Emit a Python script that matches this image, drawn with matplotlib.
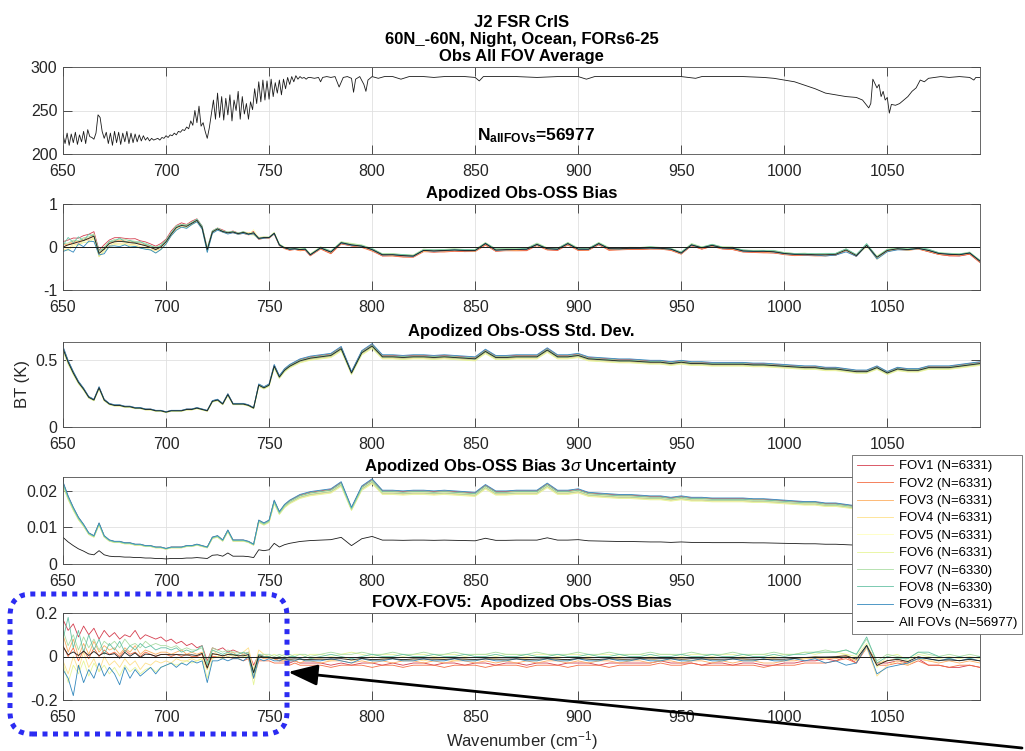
import numpy as np
import matplotlib
matplotlib.use('Agg')
import matplotlib.pyplot as plt
from matplotlib.patches import FancyArrowPatch, FancyBboxPatch
from matplotlib.ticker import FuncFormatter

plt.rcParams['font.family'] = ['Liberation Sans', 'DejaVu Sans']
plt.rcParams['mathtext.fontset'] = 'custom'
plt.rcParams['mathtext.rm'] = 'Liberation Sans'
plt.rcParams['mathtext.it'] = 'Liberation Sans:italic'
plt.rcParams['mathtext.bf'] = 'Liberation Sans:bold'

# ---------------- data ----------------
# top panel: all-FOV mean observed BT (K)
wn_obs_dense = np.arange(650, 771)
bt_obs_dense = [
    222, 212, 224, 210, 223, 213, 225, 211, 222, 214,
    226, 212, 228, 220, 219, 217, 224, 245, 242, 226,
    218, 225, 212, 224, 210, 226, 213, 225, 211, 224,
    214, 226, 212, 224, 213, 223, 214, 222, 215, 221,
    216, 219, 215, 218, 216, 217, 218, 216, 219, 218,
    221, 219, 222, 221, 224, 222, 226, 225, 228, 227,
    231, 229, 238, 233, 250, 236, 255, 232, 236, 226,
    218, 230, 246, 262, 240, 270, 242, 266, 239, 264,
    245, 268, 238, 262, 250, 272, 240, 266, 246, 258,
    240, 260, 251, 275, 258, 283, 260, 285, 262, 284,
    263, 286, 266, 282, 270, 285, 268, 286, 275, 288,
    280, 289, 283, 290, 286, 289, 287, 288, 286, 288,
    288,
]
wn_obs_tail = [772, 774, 775, 776, 778, 780, 782, 784, 786, 788, 790, 791, 792, 794,
               796, 797, 798, 800, 803, 806, 810, 814, 818, 825, 830, 835, 840, 845,
               850, 852, 854, 860, 870, 880, 890, 900, 904, 908, 920, 930, 940, 950,
               957, 960, 970, 980, 990, 995, 1000, 1005, 1010, 1015, 1020, 1025, 1030,
               1035, 1038, 1041, 1042, 1043, 1044, 1045, 1046, 1047, 1048, 1049, 1050,
               1051, 1052, 1054, 1056, 1058, 1060, 1062, 1064, 1066, 1068, 1070, 1073,
               1076, 1080, 1085, 1090, 1092, 1093, 1095]
bt_obs_tail = [287, 288, 283, 288, 289, 288, 289, 277, 288, 289, 287, 271, 286, 289,
               280, 272, 285, 289, 287, 289, 289, 286, 289, 289, 288, 289, 289, 289,
               288, 284, 289, 289, 289, 288, 289, 289, 286, 289, 289, 289, 289, 289,
               287, 289, 289, 289, 288, 287, 285, 283, 279, 275, 270, 268, 266,
               265, 262, 253, 258, 286, 281, 276, 280, 266, 272, 262, 265,
               247, 257, 256, 258, 262, 266, 272, 276, 285, 283, 287, 288,
               289, 288, 289, 288, 285, 288, 288]

# common spectral grid for the statistics panels
wn = np.concatenate([np.arange(650, 770.1, 2.5), np.arange(775, 1095.1, 5)])

bias_all = [
    0.00, 0.05, 0.08, 0.12, 0.15, 0.20, 0.25, -0.15, -0.05, 0.08,
    0.12, 0.13, 0.12, 0.10, 0.09, 0.06, 0.03, -0.01, -0.06, 0.00,
    0.12, 0.30, 0.45, 0.50, 0.48, 0.55, 0.62, 0.45, -0.06, 0.35,
    0.42, 0.36, 0.33, 0.35, 0.31, 0.34, 0.30, 0.33, 0.20, 0.22,
    0.22, 0.32, 0.05, -0.02, -0.05, -0.04, -0.06, -0.05, -0.18,
    -0.02, -0.12, 0.10, 0.05, 0.02, -0.06, -0.18, -0.18, -0.20, -0.21,
    -0.08, -0.09, -0.08, -0.07, -0.08, -0.08, 0.08, -0.07, -0.06, -0.06,
    -0.05, 0.06, -0.04, -0.05, 0.08, -0.05, -0.05, 0.08, -0.04, -0.04,
    -0.03, -0.03, -0.02, -0.03, -0.05, -0.14, 0.05, -0.02, 0.04, -0.02,
    -0.03, -0.09, -0.10, -0.10, -0.11, -0.15, -0.17, -0.17, -0.18, -0.18,
    -0.17, -0.07, -0.20, 0.04, -0.24, -0.08, -0.04, -0.06, -0.03, -0.08,
    -0.15, -0.17, -0.18, -0.14, -0.33,
]

std_all = [
    0.58, 0.48, 0.40, 0.33, 0.28, 0.22, 0.20, 0.29, 0.20, 0.17,
    0.16, 0.16, 0.15, 0.15, 0.14, 0.14, 0.13, 0.13, 0.12, 0.12,
    0.11, 0.12, 0.12, 0.12, 0.13, 0.13, 0.14, 0.13, 0.12, 0.19,
    0.20, 0.17, 0.24, 0.17, 0.17, 0.17, 0.16, 0.14, 0.31, 0.29,
    0.31, 0.45, 0.37, 0.42, 0.45, 0.47, 0.49, 0.50, 0.51,
    0.52, 0.53, 0.58, 0.40, 0.55, 0.60, 0.52, 0.52, 0.515, 0.52,
    0.52, 0.515, 0.52, 0.515, 0.51, 0.505, 0.56, 0.515, 0.515, 0.52,
    0.52, 0.52, 0.57, 0.52, 0.52, 0.53, 0.505, 0.50, 0.495, 0.49,
    0.49, 0.485, 0.48, 0.48, 0.47, 0.48, 0.47, 0.47, 0.465, 0.465,
    0.465, 0.465, 0.46, 0.46, 0.455, 0.45, 0.445, 0.44, 0.44, 0.43,
    0.43, 0.42, 0.41, 0.41, 0.44, 0.40, 0.43, 0.42, 0.42, 0.44,
    0.44, 0.44, 0.45, 0.46, 0.47,
]

# per-FOV std relative to the all-FOV std
std_scale = [1.02, 0.99, 1.01, 0.98, 1.00, 0.97, 0.99, 1.01, 1.03]

fov_n = [6331, 6331, 6331, 6331, 6331, 6331, 6330, 6330, 6331]
n_all = 56977

# FOVX - FOV5 bias difference
diff_fov1 = [
    0.17, 0.12, 0.15, 0.09, 0.14, 0.10, 0.13, 0.08, 0.12, 0.09,
    0.11, 0.08, 0.10, 0.09, 0.12, 0.08, 0.10, 0.09, 0.08, 0.09,
    0.07, 0.08, 0.06, 0.07, 0.05, 0.06, 0.04, 0.05, -0.02, 0.04,
    0.03, 0.04, 0.02, 0.03, 0.02, 0.01, 0.02, -0.04, 0.01, 0.00,
    0.00, -0.01, -0.02, -0.02, -0.03, -0.02, -0.03, -0.03, -0.03,
    -0.03, -0.04, -0.03, -0.04, -0.03, -0.03, -0.04, -0.03, -0.04, -0.03,
    -0.03, -0.04, -0.03, -0.03, -0.04, -0.03, -0.03, -0.04, -0.03, -0.03,
    -0.04, -0.03, -0.03, -0.04, -0.03, -0.03, -0.03, -0.04, -0.03, -0.03,
    -0.03, -0.03, -0.03, -0.02, -0.03, -0.03, -0.03, -0.04, -0.03, -0.03,
    -0.04, -0.03, -0.03, -0.04, -0.04, -0.03, -0.03, -0.02, -0.02, -0.01,
    -0.02, 0.00, -0.03, 0.05, -0.03, -0.03, -0.02, -0.03, -0.01, -0.04,
    -0.04, -0.05, -0.05, -0.04, -0.05,
]
diff_fov2 = [
    0.05, 0.00, 0.04, -0.02, 0.03, -0.01, 0.04, 0.00, 0.03, 0.01,
    0.02, 0.00, 0.03, 0.01, 0.02, 0.00, 0.02, 0.01, 0.00, 0.01,
    0.01, 0.00, 0.01, 0.00, 0.01, 0.00, 0.00, 0.01, -0.05, 0.00,
    0.00, -0.01, 0.00, -0.01, -0.01, -0.02, -0.01, -0.10, -0.02, -0.02,
    -0.02, -0.03, -0.03, -0.03, -0.04, -0.03, -0.04, -0.04, -0.04,
    -0.04, -0.05, -0.04, -0.04, -0.04, -0.05, -0.04, -0.04, -0.05, -0.04,
    -0.04, -0.04, -0.05, -0.04, -0.04, -0.04, -0.05, -0.04, -0.04, -0.04,
    -0.05, -0.04, -0.04, -0.04, -0.05, -0.04, -0.04, -0.04, -0.05, -0.04,
    -0.04, -0.04, -0.04, -0.03, -0.04, -0.04, -0.03, -0.04, -0.04, -0.04,
    -0.04, -0.04, -0.04, -0.05, -0.04, -0.04, -0.04, -0.03, -0.03, -0.03,
    -0.02, -0.01, -0.03, 0.04, -0.04, -0.04, -0.03, -0.04, -0.02, -0.04,
    -0.04, -0.05, -0.04, -0.04, -0.05,
]
diff_fov3 = [
    0.10, 0.02, 0.08, 0.00, 0.06, 0.01, 0.07, 0.02, 0.05, 0.03,
    0.04, 0.01, 0.04, 0.02, 0.05, 0.01, 0.03, 0.02, 0.01, 0.02,
    0.02, 0.01, 0.02, 0.03, 0.01, 0.02, 0.01, 0.02, -0.06, 0.01,
    0.01, 0.00, 0.01, 0.02, 0.00, 0.01, 0.00, -0.08, 0.00, -0.01,
    -0.01, -0.01, -0.02, -0.02, -0.02, -0.02, -0.03, -0.02, -0.02,
    -0.03, -0.02, -0.02, -0.03, -0.02, -0.03, -0.02, -0.03, -0.02, -0.02,
    -0.03, -0.02, -0.03, -0.02, -0.02, -0.03, -0.02, -0.03, -0.02, -0.03,
    -0.02, -0.03, -0.02, -0.02, -0.03, -0.02, -0.03, -0.02, -0.02, -0.03,
    -0.02, -0.02, -0.03, -0.02, -0.02, -0.03, -0.02, -0.02, -0.03, -0.02,
    -0.03, -0.02, -0.02, -0.03, -0.03, -0.02, -0.02, -0.01, -0.01, -0.01,
    -0.01, 0.00, -0.02, 0.05, -0.03, -0.02, -0.01, -0.03, -0.01, -0.02,
    -0.03, -0.02, -0.03, -0.02, -0.03,
]
diff_fov4 = [
    -0.02, -0.08, 0.00, -0.06, 0.02, -0.05, -0.01, -0.07, 0.00, -0.04,
    -0.02, -0.05, -0.01, -0.04, -0.02, -0.06, -0.03, -0.04, -0.02, -0.03,
    -0.02, -0.03, -0.01, -0.02, -0.02, -0.01, -0.02, -0.01, -0.06, 0.03,
    0.01, -0.01, 0.02, 0.00, 0.01, 0.02, 0.04, -0.06, 0.03, 0.01,
    0.00, -0.01, -0.01, -0.02, -0.01, -0.02, -0.01, -0.02, -0.01,
    -0.01, -0.02, 0.00, -0.02, -0.01, -0.02, -0.01, -0.01, -0.02, -0.01,
    -0.02, -0.01, -0.01, -0.02, -0.01, -0.02, -0.01, -0.01, -0.02, -0.01,
    -0.01, -0.02, -0.01, -0.01, -0.02, -0.01, -0.01, -0.02, -0.01, -0.01,
    -0.02, -0.01, -0.01, -0.02, -0.01, -0.01, -0.02, -0.01, -0.01, -0.02,
    -0.01, -0.01, -0.02, -0.01, -0.01, -0.02, -0.01, -0.01, 0.00, -0.01,
    0.00, 0.01, -0.02, 0.04, -0.09, -0.04, -0.02, -0.04, -0.01, -0.02,
    -0.02, -0.01, -0.02, -0.01, -0.02,
]
diff_fov5 = [0.0] * len(wn)
diff_fov6 = [
    -0.03, -0.12, -0.04, -0.08, -0.02, -0.09, -0.03, -0.07, -0.04, -0.08,
    -0.05, -0.09, -0.04, -0.07, -0.05, -0.08, -0.06, -0.05, -0.07, -0.05,
    -0.04, -0.03, -0.04, -0.03, -0.02, -0.03, -0.02, -0.01, -0.10, -0.01,
    0.00, -0.01, 0.00, 0.01, -0.01, 0.00, 0.00, -0.13, 0.00, 0.00,
    0.00, 0.01, 0.00, 0.01, 0.00, 0.01, 0.01, 0.00, 0.01,
    0.01, 0.00, 0.01, 0.02, 0.01, 0.00, 0.01, 0.01, 0.00, 0.01,
    0.01, 0.00, 0.01, 0.01, 0.00, 0.01, 0.01, 0.00, 0.01, 0.01,
    0.00, 0.01, 0.01, 0.00, 0.01, 0.01, 0.00, 0.01, 0.01, 0.00,
    0.01, 0.01, 0.00, 0.01, 0.01, 0.00, 0.01, 0.01, 0.00, 0.01,
    0.01, 0.00, 0.01, 0.01, 0.00, 0.01, 0.01, 0.02, 0.01, 0.02,
    0.02, 0.01, 0.00, 0.06, -0.05, 0.00, 0.01, -0.02, 0.01, 0.00,
    -0.01, 0.00, -0.01, 0.00, -0.01,
]
diff_fov7 = [
    0.12, 0.05, 0.10, 0.03, 0.09, 0.04, 0.08, 0.03, 0.07, 0.05,
    0.07, 0.04, 0.08, 0.05, 0.06, 0.04, 0.07, 0.05, 0.06, 0.05,
    0.05, 0.04, 0.05, 0.03, 0.04, 0.03, 0.03, 0.04, -0.03, 0.04,
    0.03, 0.02, 0.03, 0.02, 0.02, 0.01, 0.02, -0.09, 0.01, 0.01,
    0.01, 0.00, 0.01, 0.00, 0.01, 0.00, 0.01, 0.01, 0.00,
    0.01, 0.02, 0.01, 0.01, 0.02, 0.01, 0.01, 0.02, 0.01, 0.01,
    0.02, 0.01, 0.01, 0.02, 0.01, 0.01, 0.01, 0.02, 0.01, 0.01,
    0.01, 0.02, 0.01, 0.01, 0.01, 0.02, 0.01, 0.01, 0.02, 0.01,
    0.01, 0.01, 0.02, 0.01, 0.01, 0.01, 0.02, 0.01, 0.01, 0.01,
    0.02, 0.01, 0.01, 0.01, 0.02, 0.01, 0.01, 0.02, 0.02, 0.03,
    0.02, 0.03, 0.01, 0.08, -0.02, 0.01, 0.00, -0.01, 0.02, 0.01,
    0.00, 0.01, 0.00, 0.01, 0.00,
]
diff_fov8 = [
    0.08, 0.18, 0.04, 0.12, 0.02, 0.10, 0.03, 0.08, 0.01, 0.06,
    0.03, 0.07, 0.02, 0.05, 0.03, 0.06, 0.04, 0.05, 0.03, 0.04,
    0.04, 0.03, 0.04, 0.02, 0.03, 0.02, 0.03, 0.05, -0.04, 0.03,
    0.02, 0.01, 0.02, 0.01, 0.01, 0.02, 0.01, -0.07, 0.01, 0.00,
    0.00, -0.01, 0.00, -0.01, 0.00, 0.00, -0.01, 0.00, -0.01,
    0.00, 0.01, 0.00, -0.01, 0.00, 0.01, 0.00, 0.00, 0.01, 0.00,
    0.00, 0.01, 0.00, 0.00, 0.01, 0.00, 0.00, 0.01, 0.00, 0.00,
    0.01, 0.00, 0.00, 0.01, 0.00, 0.00, 0.01, 0.00, 0.00, 0.01,
    0.00, 0.00, 0.01, 0.00, 0.00, 0.01, 0.00, 0.00, 0.01, 0.00,
    0.00, 0.01, 0.00, 0.00, 0.01, 0.00, 0.01, 0.01, 0.02, 0.02,
    0.02, 0.03, 0.01, 0.09, -0.03, 0.00, -0.01, -0.01, 0.02, 0.02,
    0.00, -0.01, 0.00, -0.01, 0.00,
]
diff_fov9 = [
    -0.06, -0.10, -0.18, -0.04, -0.12, -0.06, -0.10, -0.03, -0.09, -0.05,
    -0.08, -0.13, -0.05, -0.10, -0.06, -0.09, -0.07, -0.05, -0.08, -0.05,
    -0.04, -0.03, -0.05, -0.03, -0.04, -0.02, -0.03, -0.02, -0.12, -0.02,
    -0.02, -0.01, -0.02, -0.01, -0.01, -0.02, 0.00, -0.10, -0.01, -0.02,
    -0.01, -0.02, -0.02, -0.01, -0.02, -0.02, -0.01, -0.02, -0.02,
    -0.02, -0.01, -0.02, -0.03, -0.01, -0.02, -0.02, -0.01, -0.02, -0.02,
    -0.01, -0.02, -0.02, -0.01, -0.02, -0.02, -0.01, -0.02, -0.02, -0.01,
    -0.02, -0.02, -0.01, -0.02, -0.02, -0.01, -0.02, -0.02, -0.01, -0.02,
    -0.02, -0.01, -0.02, -0.02, -0.01, -0.02, -0.02, -0.01, -0.02, -0.02,
    -0.01, -0.02, -0.02, -0.01, -0.02, -0.02, -0.01, -0.02, -0.01, -0.03,
    -0.02, -0.04, -0.03, 0.05, -0.08, -0.05, -0.04, -0.03, -0.01, -0.01,
    -0.02, -0.01, -0.02, -0.01, -0.02,
]

fov_colors = ['#d53e4f', '#f46d43', '#fdae61', '#fee08b', '#ffffbf',
              '#e6f598', '#abdda4', '#66c2a5', '#3288bd']

# ---------------- derived per-FOV statistics ----------------
diffs = np.array([diff_fov1, diff_fov2, diff_fov3, diff_fov4, diff_fov5,
                  diff_fov6, diff_fov7, diff_fov8, diff_fov9])
for d in diffs:
    assert len(d) == len(wn)
diff_all = diffs.mean(axis=0)
bias_fov = np.array(bias_all) + diffs - diff_all
std_fov = np.array(std_scale)[:, None] * np.array(std_all)[None, :]
unc_fov = 3 * std_fov / np.sqrt(np.array(fov_n))[:, None]
unc_all = 3 * np.array(std_all) / np.sqrt(n_all)

labels = [f'FOV{i + 1} (N={n})' for i, n in enumerate(fov_n)] + [f'All FOVs (N={n_all})']

# ---------------- figure ----------------
W, H = 1025, 751
fig = plt.figure(figsize=(W / 100, H / 100), dpi=100)

panel_px = [(67, 154), (204, 290), (342, 427), (477, 564), (613, 700)]
axes = []
for top, bot in panel_px:
    axes.append(fig.add_axes([63 / W, 1 - bot / H, (980 - 63) / W, (bot - top) / H]))

fmt_g = FuncFormatter(lambda v, p: f'{v:g}')


def style_axis(ax, ylim, yticks):
    ax.set_xlim(650, 1095)
    ax.set_ylim(*ylim)
    ax.set_xticks(np.arange(650, 1051, 50))
    ax.set_yticks(yticks)
    ax.yaxis.set_major_formatter(fmt_g)
    ax.tick_params(direction='in', top=True, right=True, length=6.5, width=0.6,
                   labelsize=11.5, color='0.2', labelcolor='0.15')
    ax.tick_params(axis='x', pad=7)
    ax.tick_params(axis='y', pad=4)
    ax.grid(True, color='0.88', linewidth=0.6)
    ax.set_axisbelow(True)
    for s in ax.spines.values():
        s.set_color('0.3')
        s.set_linewidth(0.6)


title_kw = dict(fontsize=12, fontweight='bold', pad=4)

# panel 1
ax = axes[0]
ax.plot(np.concatenate([wn_obs_dense, wn_obs_tail]), bt_obs_dense + bt_obs_tail,
        color='0.1', linewidth=0.6)
style_axis(ax, (200, 300), [200, 250, 300])
ax.set_title('J2 FSR CrIS\n60N_-60N, Night, Ocean, FORs6-25\nObs All FOV Average',
             linespacing=1.2, **title_kw)
ax.text(851, 216, r'N$_{\mathbf{allFOVs}}$=56977', fontsize=12.5, fontweight='bold')

# panel 2
ax = axes[1]
for i in range(9):
    ax.plot(wn, bias_fov[i], color=fov_colors[i], linewidth=0.6)
ax.plot(wn, bias_all, color='0.1', linewidth=0.6)
ax.axhline(0, color='0.1', linewidth=0.7)
style_axis(ax, (-1, 1), [-1, 0, 1])
ax.set_title('Apodized Obs-OSS Bias', **title_kw)

# panel 3
ax = axes[2]
for i in range(9):
    ax.plot(wn, std_fov[i], color=fov_colors[i], linewidth=0.6)
ax.plot(wn, std_all, color='0.1', linewidth=0.6)
style_axis(ax, (0, 0.63), [0, 0.5])
ax.set_title('Apodized Obs-OSS Std. Dev.', **title_kw)
ax.set_ylabel('BT (K)', fontsize=12, color='0.15')

# panel 4
ax = axes[3]
handles = []
for i in range(9):
    h, = ax.plot(wn, unc_fov[i], color=fov_colors[i], linewidth=0.6)
    handles.append(h)
h, = ax.plot(wn, unc_all, color='0.1', linewidth=0.6)
handles.append(h)
style_axis(ax, (0, 0.0238), [0, 0.01, 0.02])
ax.set_title(r'Apodized Obs-OSS Bias 3$\sigma$ Uncertainty', **title_kw)

# panel 5
ax = axes[4]
for i in range(9):
    ax.plot(wn, diffs[i], color=fov_colors[i], linewidth=0.6)
ax.plot(wn, diff_all, color='0.1', linewidth=0.6)
ax.axhline(0, color='0.1', linewidth=0.7)
style_axis(ax, (-0.2, 0.2), [-0.2, 0, 0.2])
ax.set_title('FOVX-FOV5:  Apodized Obs-OSS Bias', **title_kw)
ax.set_xlabel('Wavenumber (cm$^{-1}$)', fontsize=12, color='0.15', labelpad=3)


# legend box in the reference: x 852..1023, y 455..634 (pixels)
def make_legend(fs, ls):
    lg = fig.legend(handles, labels, loc='upper left', bbox_to_anchor=(852 / W, 1 - 455 / H),
                    bbox_transform=fig.transFigure, fontsize=fs, frameon=True, fancybox=False,
                    edgecolor='0.4', framealpha=1, borderaxespad=0, borderpad=0.4,
                    labelspacing=ls, handlelength=2.7, handletextpad=0.45)
    lg.get_frame().set_linewidth(0.6)
    return lg


fs, ls = 10.0, 0.3
for _ in range(3):
    leg = make_legend(fs, ls)
    fig.canvas.draw()
    bb = leg.get_window_extent()
    leg.remove()
    fs = fs * 170 / bb.width
    ls = max(0.05, ls + (179 - bb.height) / (9 * fs * 100 / 72))
leg = make_legend(fs, ls)

# annotation: dotted box and arrow (in inches from bottom-left)
box = FancyBboxPatch((0.10, (H - 734) / 100), 2.77, 1.40,
                     boxstyle='round,pad=0,rounding_size=0.22',
                     transform=fig.dpi_scale_trans, fill=False,
                     edgecolor='#2b2bf2', linewidth=3.6, linestyle=(0, (1, 1.1)))
box.set_capstyle('butt')
fig.add_artist(box)

arrow = FancyArrowPatch((10.22, (H - 748) / 100), (2.88, (H - 672) / 100),
                        transform=fig.dpi_scale_trans,
                        arrowstyle='-|>,head_length=0.9,head_width=0.32',
                        mutation_scale=20, color='black', linewidth=2.0,
                        shrinkA=0, shrinkB=0)
fig.add_artist(arrow)

fig.savefig('out.png', dpi=100)
